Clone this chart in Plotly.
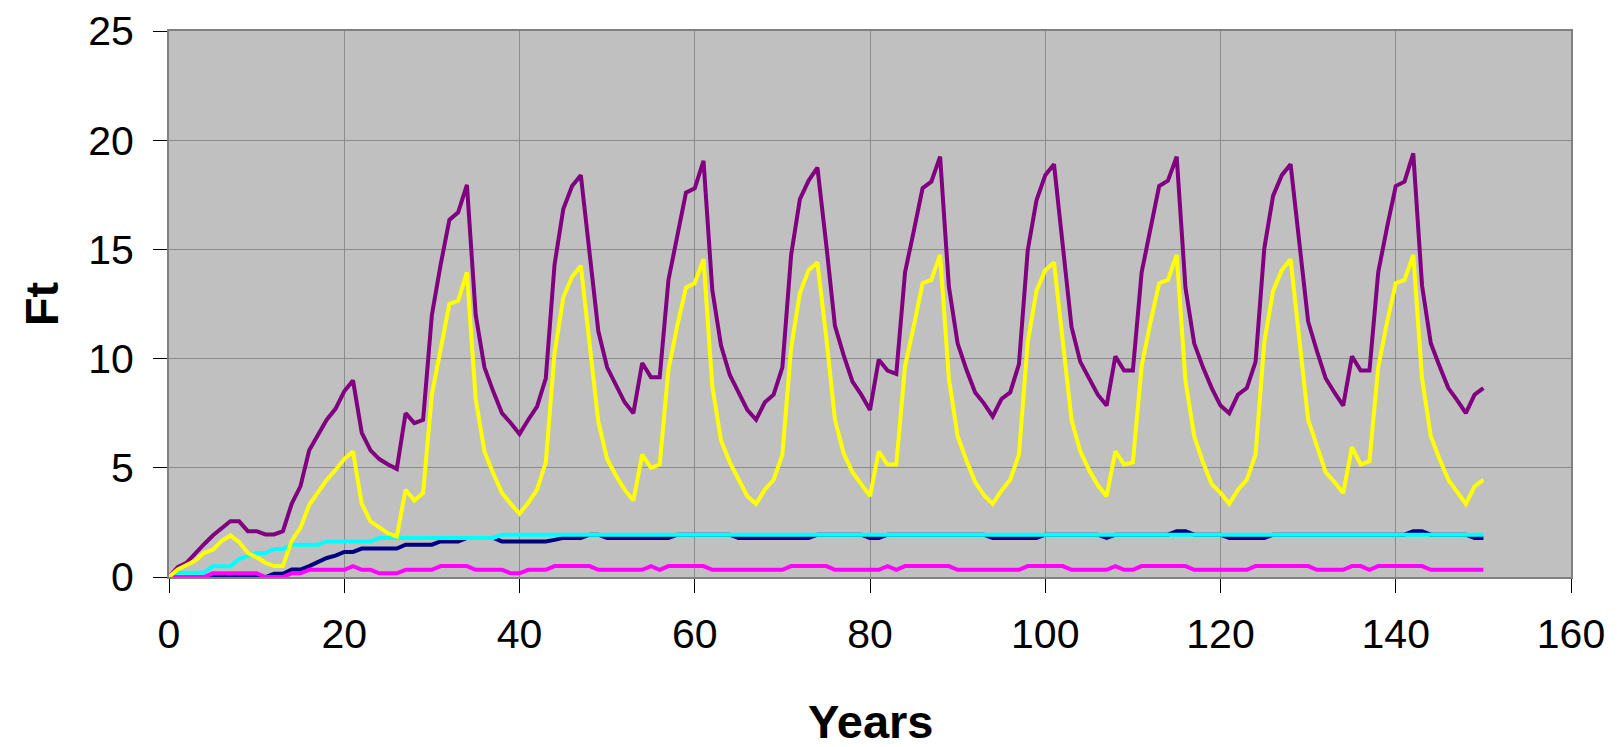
import plotly.graph_objects as go

years = list(range(0, 151))

purple = [
    0, 0.45, 0.65, 1.1, 1.5, 1.9, 2.25, 2.55, 2.55, 2.1,
    2.1, 1.95, 1.95, 2.1, 3.35, 4.15, 5.8, 6.5, 7.2, 7.7,
    8.5, 9.0, 6.6, 5.8, 5.4, 5.15, 4.95, 7.5, 7.05, 7.2,
    12.0, 14.3, 16.35, 16.7, 17.95, 12.0, 9.6, 8.5, 7.5, 7.05,
    6.55, 7.2, 7.8, 9.1, 14.3, 16.85, 17.9, 18.4, 14.85, 11.25,
    9.6, 8.8, 8.0, 7.5, 9.8, 9.15, 9.15, 13.6, 15.65, 17.6,
    17.8, 19.05, 13.15, 10.6, 9.25, 8.45, 7.65, 7.2, 8.0, 8.35,
    9.6, 14.75, 17.3, 18.15, 18.75, 15.25, 11.5, 10.15, 8.95, 8.35,
    7.65, 9.95, 9.45, 9.3, 13.95, 15.85, 17.8, 18.1, 19.25, 13.3,
    10.7, 9.5, 8.45, 7.95, 7.35, 8.15, 8.45, 9.75, 14.95, 17.25,
    18.4, 18.9, 15.15, 11.45, 9.85, 9.1, 8.35, 7.85, 10.1, 9.45,
    9.45, 13.95, 16.0, 17.9, 18.15, 19.25, 13.25, 10.7, 9.6, 8.65,
    7.85, 7.5, 8.35, 8.65, 9.85, 15.05, 17.45, 18.4, 18.9, 15.4,
    11.7, 10.35, 9.1, 8.45, 7.85, 10.1, 9.45, 9.45, 13.95, 16.0,
    17.9, 18.1, 19.4, 13.35, 10.7, 9.65, 8.65, 8.1, 7.5, 8.35, 8.65,
]

yellow = [
    0, 0.35, 0.55, 0.75, 1.1, 1.25, 1.65, 1.9, 1.6, 1.1,
    0.9, 0.65, 0.5, 0.5, 1.65, 2.25, 3.3, 3.9, 4.45, 4.9,
    5.4, 5.75, 3.35, 2.55, 2.25, 2.0, 1.85, 4.0, 3.5, 3.85,
    8.35, 10.4, 12.5, 12.65, 13.95, 8.15, 5.75, 4.75, 3.85, 3.35,
    2.9, 3.4, 4.0, 5.25, 10.25, 12.8, 13.75, 14.25, 10.5, 7.1,
    5.4, 4.65, 4.0, 3.5, 5.6, 5.0, 5.15, 9.5, 11.5, 13.25,
    13.45, 14.55, 8.75, 6.25, 5.25, 4.5, 3.7, 3.35, 4.0, 4.45,
    5.6, 10.5, 13.0, 14.05, 14.4, 11.0, 7.2, 5.65, 4.8, 4.25,
    3.7, 5.75, 5.15, 5.15, 9.65, 11.5, 13.45, 13.6, 14.75, 9.1,
    6.45, 5.35, 4.35, 3.75, 3.35, 3.95, 4.45, 5.6, 10.75, 13.1,
    14.05, 14.4, 10.9, 7.2, 5.75, 4.9, 4.2, 3.7, 5.75, 5.15,
    5.25, 9.65, 11.65, 13.45, 13.6, 14.75, 9.0, 6.45, 5.25, 4.25,
    3.85, 3.35, 4.0, 4.45, 5.6, 10.75, 13.1, 14.05, 14.55, 10.85,
    7.2, 6.0, 4.8, 4.35, 3.85, 5.95, 5.15, 5.3, 9.6, 11.65,
    13.45, 13.6, 14.75, 9.1, 6.45, 5.4, 4.45, 3.9, 3.35, 4.15, 4.45,
]

navy = [
    0, 0, 0, 0, 0, 0, 0, 0, 0, 0,
    0, 0, 0.15, 0.15, 0.34, 0.34, 0.5, 0.7, 0.87, 0.98,
    1.15, 1.15, 1.3, 1.3, 1.3, 1.3, 1.3, 1.48, 1.48, 1.48,
    1.48, 1.63, 1.63, 1.63, 1.79, 1.79, 1.79, 1.79, 1.63, 1.63,
    1.63, 1.63, 1.63, 1.63, 1.7, 1.79, 1.79, 1.79, 1.94, 1.94,
    1.79, 1.79, 1.79, 1.79, 1.79, 1.79, 1.79, 1.79, 1.94, 1.94,
    1.94, 1.94, 1.94, 1.94, 1.94, 1.79, 1.79, 1.79, 1.79, 1.79,
    1.79, 1.79, 1.79, 1.79, 1.94, 1.94, 1.94, 1.94, 1.94, 1.94,
    1.79, 1.79, 1.94, 1.94, 1.94, 1.94, 1.94, 1.94, 1.94, 1.94,
    1.94, 1.94, 1.94, 1.94, 1.79, 1.79, 1.79, 1.79, 1.79, 1.79,
    1.94, 1.94, 1.94, 1.94, 1.94, 1.94, 1.94, 1.79, 1.94, 1.94,
    1.94, 1.94, 1.94, 1.94, 1.94, 2.1, 2.1, 1.94, 1.94, 1.94,
    1.94, 1.79, 1.79, 1.79, 1.79, 1.79, 1.94, 1.94, 1.94, 1.94,
    1.94, 1.94, 1.94, 1.94, 1.94, 1.94, 1.94, 1.94, 1.94, 1.94,
    1.94, 1.94, 2.1, 2.1, 1.94, 1.94, 1.94, 1.94, 1.94, 1.79, 1.79,
]

cyan = [
    0, 0.2, 0.2, 0.2, 0.2, 0.49, 0.49, 0.49, 0.82, 0.95,
    1.1, 1.1, 1.28, 1.28, 1.48, 1.48, 1.48, 1.48, 1.63, 1.63,
    1.63, 1.63, 1.63, 1.63, 1.79, 1.79, 1.79, 1.79, 1.79, 1.79,
    1.79, 1.79, 1.79, 1.79, 1.79, 1.79, 1.79, 1.79, 1.94, 1.94,
    1.94, 1.94, 1.94, 1.94, 1.94, 1.94, 1.94, 1.94, 1.94, 1.94,
    1.94, 1.94, 1.94, 1.94, 1.94, 1.94, 1.94, 1.94, 1.94, 1.94,
    1.94, 1.94, 1.94, 1.94, 1.94, 1.94, 1.94, 1.94, 1.94, 1.94,
    1.94, 1.94, 1.94, 1.94, 1.94, 1.94, 1.94, 1.94, 1.94, 1.94,
    1.94, 1.94, 1.94, 1.94, 1.94, 1.94, 1.94, 1.94, 1.94, 1.94,
    1.94, 1.94, 1.94, 1.94, 1.94, 1.94, 1.94, 1.94, 1.94, 1.94,
    1.94, 1.94, 1.94, 1.94, 1.94, 1.94, 1.94, 1.94, 1.94, 1.94,
    1.94, 1.94, 1.94, 1.94, 1.94, 1.94, 1.94, 1.94, 1.94, 1.94,
    1.94, 1.94, 1.94, 1.94, 1.94, 1.94, 1.94, 1.94, 1.94, 1.94,
    1.94, 1.94, 1.94, 1.94, 1.94, 1.94, 1.94, 1.94, 1.94, 1.94,
    1.94, 1.94, 1.94, 1.94, 1.94, 1.94, 1.94, 1.94, 1.94, 1.94, 1.94,
]

magenta = [
    0, 0, 0, 0, 0, 0.17, 0.17, 0.17, 0.17, 0.17,
    0.17, 0, 0, 0, 0.17, 0.17, 0.33, 0.33, 0.33, 0.33,
    0.33, 0.5, 0.33, 0.33, 0.17, 0.17, 0.17, 0.33, 0.33, 0.33,
    0.33, 0.5, 0.5, 0.5, 0.5, 0.33, 0.33, 0.33, 0.33, 0.17,
    0.17, 0.33, 0.33, 0.33, 0.5, 0.5, 0.5, 0.5, 0.5, 0.33,
    0.33, 0.33, 0.33, 0.33, 0.33, 0.5, 0.33, 0.5, 0.5, 0.5,
    0.5, 0.5, 0.33, 0.33, 0.33, 0.33, 0.33, 0.33, 0.33, 0.33,
    0.33, 0.5, 0.5, 0.5, 0.5, 0.5, 0.33, 0.33, 0.33, 0.33,
    0.33, 0.33, 0.5, 0.33, 0.5, 0.5, 0.5, 0.5, 0.5, 0.5,
    0.33, 0.33, 0.33, 0.33, 0.33, 0.33, 0.33, 0.33, 0.5, 0.5,
    0.5, 0.5, 0.5, 0.33, 0.33, 0.33, 0.33, 0.33, 0.5, 0.33,
    0.33, 0.5, 0.5, 0.5, 0.5, 0.5, 0.5, 0.33, 0.33, 0.33,
    0.33, 0.33, 0.33, 0.33, 0.5, 0.5, 0.5, 0.5, 0.5, 0.5,
    0.5, 0.33, 0.33, 0.33, 0.33, 0.5, 0.5, 0.33, 0.5, 0.5,
    0.5, 0.5, 0.5, 0.5, 0.33, 0.33, 0.33, 0.33, 0.33, 0.33, 0.33,
]

x_ticks = [0, 20, 40, 60, 80, 100, 120, 140, 160]
y_ticks = [0, 5, 10, 15, 20, 25]

series = [
    ("navy", navy, "#000080"),
    ("cyan", cyan, "#00FFFF"),
    ("magenta", magenta, "#FF00FF"),
    ("purple", purple, "#800080"),
    ("yellow", yellow, "#FFFF00"),
]

fig = go.Figure()
for name, vals, col in series:
    fig.add_trace(go.Scatter(x=years, y=vals, mode="lines", name=name,
                             line=dict(color=col, width=4), showlegend=False))

FONT = "Liberation Sans, Arial, sans-serif"
fig.update_layout(
    width=1607, height=739,
    margin=dict(l=161, r=44, t=23, b=170),
    paper_bgcolor="white",
    plot_bgcolor="#C0C0C0",
    font=dict(family=FONT, color="black"),
    showlegend=False,
)
fig.update_xaxes(
    range=[0, 160], tickvals=x_ticks, ticktext=[str(v) for v in x_ticks],
    showgrid=True, gridcolor="#8C8C8C", gridwidth=1,
    showline=True, linecolor="#808080", linewidth=2, mirror=True,
    ticks="outside", ticklen=14, tickcolor="black", tickwidth=1,
    tickfont=dict(size=41, family=FONT), ticklabelstandoff=6,
    zeroline=False, automargin=False,
)
fig.update_yaxes(
    range=[0, 25], tickvals=y_ticks, ticktext=[str(v) for v in y_ticks],
    showgrid=True, gridcolor="#8C8C8C", gridwidth=1,
    showline=True, linecolor="#808080", linewidth=2, mirror=True,
    ticks="outside", ticklen=14, tickcolor="black", tickwidth=1,
    tickfont=dict(size=41, family=FONT), ticklabelstandoff=11,
    zeroline=False, automargin=False,
    title=dict(text="<b>Ft</b>", font=dict(size=47, family=FONT), standoff=15),
)
fig.add_annotation(
    text="<b>Years</b>", xref="paper", yref="paper", x=0.5, y=-0.2647,
    xanchor="center", yanchor="middle", showarrow=False,
    font=dict(size=47, family=FONT, color="black"),
)

fig.write_html("out.html")
